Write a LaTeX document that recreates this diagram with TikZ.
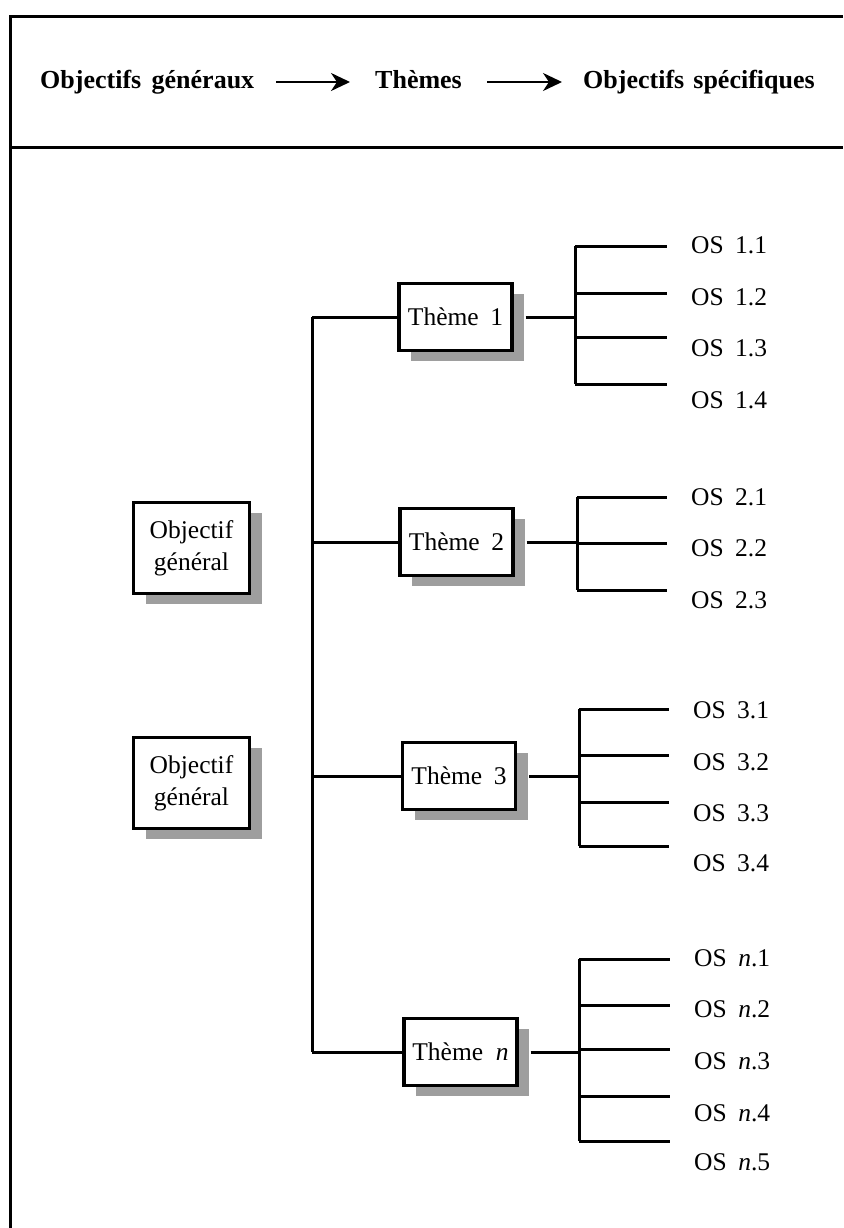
\documentclass[tikz,border=0pt]{standalone}
\usepackage{fontspec}
\setmainfont{Liberation Serif}
\usetikzlibrary{arrows.meta,shadows}
\begin{document}
\begin{tikzpicture}[x=1pt,y=-1pt,
  hdr/.style={font=\fontsize{26}{30}\selectfont\bfseries, inner sep=0, anchor=base west},
  harrow/.style={line width=2.6pt, -{Stealth[length=19pt,width=18pt,inset=6pt]}},
  frameline/.style={line width=3pt},
  conn/.style={line width=3pt},
  shadowed/.style={draw, line width=3.2pt, fill=white,
    drop shadow={shadow xshift=12pt, shadow yshift=-10pt, fill=black!38, opacity=1}},
  goalbox/.style={shadowed, minimum width=116pt, minimum height=91pt, inner sep=0,
    align=center, font=\fontsize{25.5}{32}\selectfont},
  themebox/.style={shadowed, minimum width=113pt, minimum height=67pt, inner sep=0,
    font=\fontsize{25.5}{30}\selectfont},
  oslabel/.style={anchor=west, inner sep=0, font=\fontsize{25.5}{30}\selectfont}
]
\useasboundingbox (0,0) rectangle (843,1228);

% frame
\coordinate (ftl) at (10,17);
\coordinate (ftr) at (843,17);
\coordinate (fbl) at (10,1228);
\coordinate (fdl) at (10,147);
\coordinate (fdr) at (843,147);
\draw[frameline] (ftr) -- (ftl) -- (fbl);
\draw[frameline] (fdl) -- (fdr);

% header
\node[hdr] (h1) at (40,89) {Objectifs\hspace{0.4em}généraux};
\node[hdr] (h2) at (375,89) {Thèmes};
\node[hdr] (h3) at (583,89) {Objectifs\hspace{0.35em}spécifiques};
\draw[harrow] ([xshift=22pt,yshift=7pt]h1.base east) -- ([xshift=-25pt,yshift=7pt]h2.base west);
\draw[harrow] ([xshift=25pt,yshift=7pt]h2.base east) -- ([xshift=-21pt,yshift=7pt]h3.base west);

% general objectives
\node[goalbox] (g1) at (191.5,548) {Objectif\\général};
\node[goalbox] (g2) at (191.5,783) {Objectif\\général};

% themes
\node[themebox] (th1) at (455.5,317) {Thème\hspace{0.45em}1};
\node[themebox] (th2) at (456.5,542) {Thème\hspace{0.45em}2};
\node[themebox] (th3) at (459,776) {Thème\hspace{0.45em}3};
\node[themebox] (thn) at (460.5,1052) {Thème\hspace{0.5em}\textit{n}};

% trunk
\coordinate (trunk) at (312,0);
\draw[conn] (th1.west -| trunk) -- (thn.west -| trunk);
\foreach \t in {th1,th2,th3,thn}{
  \draw[conn] (\t.west -| trunk) -- (\t.west);
}

% theme 1 branches
\foreach \n/\y in {a/246,b/293,c/337,d/384}{
  \coordinate (s1\n) at (575,\y);
  \coordinate (e1\n) at (667,\y);
  \draw[conn] (s1\n) -- (e1\n);
}
\draw[conn] (s1a) -- (s1d);
\draw[conn] ([xshift=12pt]th1.east) -- (th1.east -| s1a);
\node[oslabel] (os11) at (691,245) {OS\hspace{0.45em}1.1};
\node[oslabel] (os12) at (691,297) {OS\hspace{0.45em}1.2};
\node[oslabel] (os13) at (691,348) {OS\hspace{0.45em}1.3};
\node[oslabel] (os14) at (691,400) {OS\hspace{0.45em}1.4};

% theme 2 branches
\foreach \n/\y in {a/497,b/543,c/590}{
  \coordinate (s2\n) at (577,\y);
  \coordinate (e2\n) at (667,\y);
  \draw[conn] (s2\n) -- (e2\n);
}
\draw[conn] (s2a) -- (s2c);
\draw[conn] ([xshift=12pt]th2.east) -- (th2.east -| s2a);
\node[oslabel] (os21) at (691,497) {OS\hspace{0.45em}2.1};
\node[oslabel] (os22) at (691,548) {OS\hspace{0.45em}2.2};
\node[oslabel] (os23) at (691,600) {OS\hspace{0.45em}2.3};

% theme 3 branches
\foreach \n/\y in {a/709,b/755,c/802,d/846}{
  \coordinate (s3\n) at (579,\y);
  \coordinate (e3\n) at (669,\y);
  \draw[conn] (s3\n) -- (e3\n);
}
\draw[conn] (s3a) -- (s3d);
\draw[conn] ([xshift=12pt]th3.east) -- (th3.east -| s3a);
\node[oslabel] (os31) at (693,710) {OS\hspace{0.45em}3.1};
\node[oslabel] (os32) at (693,762) {OS\hspace{0.45em}3.2};
\node[oslabel] (os33) at (693,813) {OS\hspace{0.45em}3.3};
\node[oslabel] (os34) at (693,863) {OS\hspace{0.45em}3.4};

% theme n branches
\foreach \n/\y in {a/959,b/1005,c/1049,d/1096,e/1141}{
  \coordinate (sn\n) at (579,\y);
  \coordinate (en\n) at (670,\y);
  \draw[conn] (sn\n) -- (en\n);
}
\draw[conn] (sna) -- (sne);
\draw[conn] ([xshift=12pt]thn.east) -- (thn.east -| sna);
\node[oslabel] (osn1) at (694,958) {OS\hspace{0.45em}\textit{n}.1};
\node[oslabel] (osn2) at (694,1009) {OS\hspace{0.45em}\textit{n}.2};
\node[oslabel] (osn3) at (694,1061) {OS\hspace{0.45em}\textit{n}.3};
\node[oslabel] (osn4) at (694,1113) {OS\hspace{0.45em}\textit{n}.4};
\node[oslabel] (osn5) at (694,1162) {OS\hspace{0.45em}\textit{n}.5};
\end{tikzpicture}
\end{document}
